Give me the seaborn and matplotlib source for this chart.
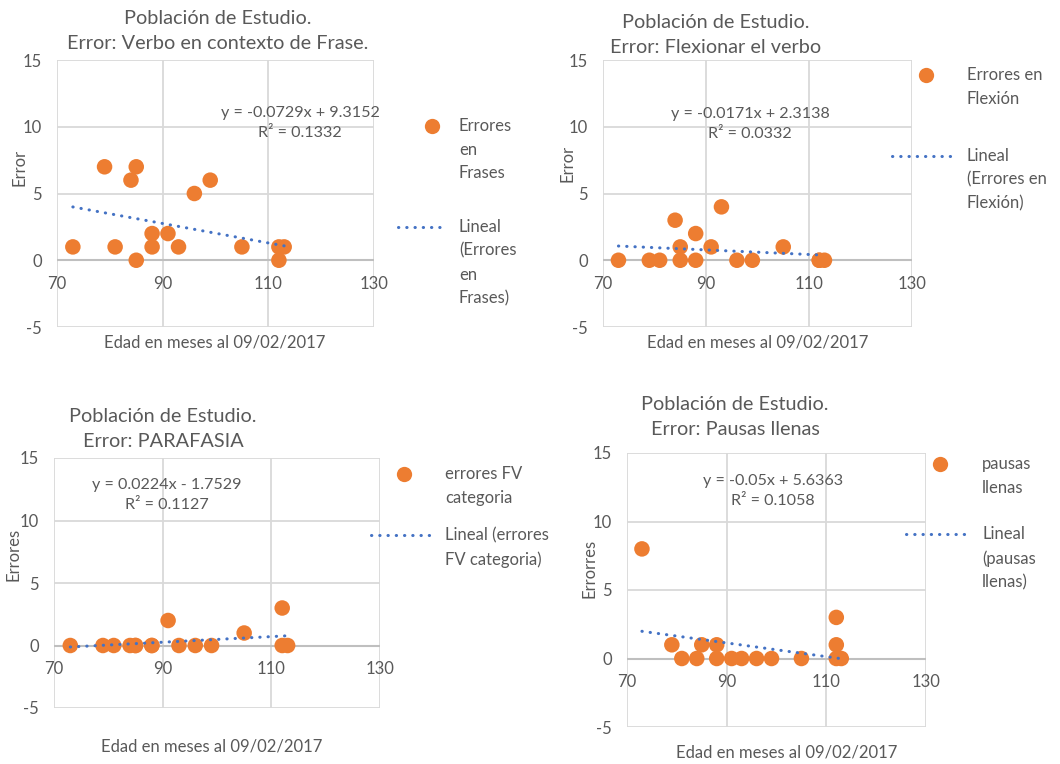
import numpy as np
import pandas as pd
import seaborn as sns
import matplotlib.pyplot as plt
import matplotlib.transforms as mtransforms

# --- data ---
ages = [73, 79, 81, 84, 85, 85, 88, 88, 91, 93, 96, 99, 105, 112, 112, 113]
ages_pausas = [73, 79, 81, 84, 85, 88, 88, 91, 93, 96, 99, 105, 112, 112, 112, 113]

err_frases = [1, 7, 1, 6, 7, 0, 2, 1, 2, 1, 5, 6, 1, 1, 0, 1]
err_flexion = [0, 0, 0, 3, 1, 0, 2, 0, 1, 4, 0, 0, 1, 0, 0, 0]
err_parafasia = [0, 0, 0, 0, 0, 0, 0, 0, 2, 0, 0, 0, 1, 3, 0, 0]
err_pausas = [8, 1, 0, 0, 1, 1, 0, 0, 0, 0, 0, 0, 3, 1, 0, 0]

# trend line coefficients (slope, intercept) as printed on the charts
slopes = [-0.0729, -0.0171, 0.0224, -0.05]
intercepts = [9.3152, 2.3138, -1.7529, 5.6363]
eq_texts = ["y = -0.0729x + 9.3152\nR² = 0.1332",
            "y = -0.0171x + 2.3138\nR² = 0.0332",
            "y = 0.0224x - 1.7529\nR² = 0.1127",
            "y = -0.05x + 5.6363\nR² = 0.1058"]

titles = ["Población de Estudio.\nError: Verbo en contexto de Frase.",
          "Población de Estudio.\nError: Flexionar el verbo",
          "Población de Estudio.\nError: PARAFASIA",
          "Población de Estudio.\nError: Pausas llenas"]
ylabels = ["Error", "Error", "Errores", "Errorres"]
xlabel = "Edad en meses al 09/02/2017"
series_labels = ["Errores\nen\nFrases", "Errores en\nFlexión",
                 "errores FV\ncategoria", "pausas\nllenas"]
trend_labels = ["Lineal\n(Errores\nen\nFrases)", "Lineal\n(Errores en\nFlexión)",
                "Lineal (errores\nFV categoria)", "Lineal\n(pausas\nllenas)"]

x_ticks = [70, 90, 110, 130]
y_ticks = [-5, 0, 5, 10, 15]

sns.set_theme(style="white")
plt.rcParams["font.family"] = ["Lato", "DejaVu Sans"]
plt.rcParams["axes.unicode_minus"] = False

ORANGE = "#ED7D31"
BLUE = "#4472C4"
GREY_TXT = "#595959"
GRID = "#D9D9D9"

W, H = 1060, 764
fig = plt.figure(figsize=(W / 100, H / 100), dpi=100)
# pixel coords with origin at top-left
T = mtransforms.Affine2D().scale(1, -1).translate(0, H)

layout = [
    # axes box (l, t, r, b), title centre, eq centre, ylabel pos, xlabel pos,
    # marker key, text x, line key (x0, x1, y)
    dict(box=(57, 60, 374, 327), title=(218, 31), eq=(300, 123), ylab=(20, 167),
         xlab=(215, 343), mk=(432, 126), tx=459, ln=(398, 445, 227)),
    dict(box=(603, 60, 912, 327), title=(716, 35), eq=(750, 124), ylab=(568, 163),
         xlab=(758, 343), mk=(926, 75), tx=967, ln=(892, 953, 156)),
    dict(box=(54, 458, 380, 708), title=(163, 429), eq=(167, 495), ylab=(14, 554),
         xlab=(212, 747), mk=(404, 474), tx=445, ln=(371, 432, 535)),
    dict(box=(627, 453, 926, 727), title=(735, 417), eq=(773, 491), ylab=(589, 568),
         xlab=(787, 753), mk=(940, 464), tx=982, ln=(906, 968, 534)),
]

xs = [ages, ages, ages, ages_pausas]
ys = [err_frases, err_flexion, err_parafasia, err_pausas]

for i in range(4):
    L = layout[i]
    l, t, r, b = L["box"]
    ax = fig.add_axes([l / W, 1 - b / H, (r - l) / W, (b - t) / H])
    df = pd.DataFrame({"edad": xs[i], "err": ys[i]})

    # trend line from the printed coefficients
    xr = np.array([df["edad"].min(), df["edad"].max()])
    trend = pd.DataFrame({"edad": xr, "err": slopes[i] * xr + intercepts[i]})
    sns.lineplot(data=trend, x="edad", y="err", ax=ax, color=BLUE, lw=2.2,
                 linestyle=(0, (0.1, 2.6)), dash_capstyle="round", zorder=4)
    sns.scatterplot(data=df, x="edad", y="err", ax=ax, color=ORANGE, s=125,
                    edgecolor="none", zorder=3)

    ax.set_xlim(70, 130)
    ax.set_ylim(-5, 15)
    ax.set_xticks(x_ticks)
    ax.set_yticks(y_ticks)
    ax.grid(True, color=GRID, lw=1.3)
    ax.axhline(0, color="#BFBFBF", lw=1.5, zorder=1)
    for sp in ax.spines.values():
        sp.set_visible(False)
    ax.spines["bottom"].set_position(("data", 0))
    ax.tick_params(length=0, labelsize=12, colors=GREY_TXT, pad=11)

    ax.set_xlabel(xlabel, fontsize=12, color=GREY_TXT, va="center")
    ax.xaxis.set_label_coords(*L["xlab"], transform=T)
    ax.set_ylabel(ylabels[i], fontsize=12, color=GREY_TXT, va="center")
    ax.yaxis.set_label_coords(*L["ylab"], transform=T)

    fig.text(*L["title"], titles[i], transform=T, ha="center", va="center",
             fontsize=14.3, color=GREY_TXT, linespacing=1.59)
    fig.text(*L["eq"], eq_texts[i], transform=T, ha="center", va="center",
             fontsize=11.6, color=GREY_TXT, linespacing=1.6)

    # Excel-style legend: keys aligned with the first line of each label
    mx, my = L["mk"]
    fig.add_artist(plt.Line2D([mx], [my], transform=T, marker="o", ms=11,
                              color=ORANGE, mec="none", ls="none"))
    x0, x1, ly = L["ln"]
    fig.add_artist(plt.Line2D([x0, x1], [ly, ly], transform=T, color=BLUE,
                              lw=2.2, linestyle=(0, (0.1, 2.6)),
                              dash_capstyle="round"))
    fig.text(L["tx"], my - 8, series_labels[i], transform=T, ha="left", va="top",
             fontsize=12, color=GREY_TXT, linespacing=1.59)
    fig.text(L["tx"], ly - 8, trend_labels[i], transform=T, ha="left", va="top",
             fontsize=12, color=GREY_TXT, linespacing=1.59)

fig.savefig("out.png", dpi=100, facecolor="white")
